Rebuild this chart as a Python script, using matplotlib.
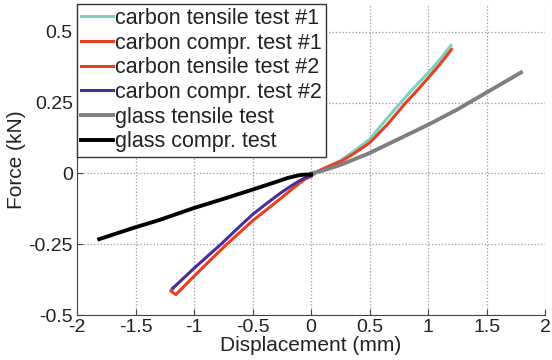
import numpy as np
import matplotlib
matplotlib.use('Agg')
import matplotlib.pyplot as plt

plt.rcParams['font.family'] = ['Liberation Sans', 'DejaVu Sans']

# carbon tensile test #1 (cyan)
ct1_x = [0.0, 0.05, 0.12, 0.2, 0.26, 0.35, 0.5, 0.62, 0.765, 0.88, 1.0, 1.1, 1.195]
ct1_y = [-0.008, 0.004, 0.018, 0.034, 0.048, 0.074, 0.12, 0.18, 0.25, 0.303, 0.355, 0.402, 0.452]
# carbon compr. test #1 (red, negative side)
cc1_x = [0.0, -0.05, -0.1, -0.17, -0.25, -0.37, -0.5, -0.6, -0.72, -0.85, -1.0, -1.155, -1.2, -1.18]
cc1_y = [-0.01, -0.02, -0.035, -0.058, -0.085, -0.125, -0.167, -0.205, -0.25, -0.302, -0.363, -0.428, -0.415, -0.405]
# carbon tensile test #2 (red, positive side)
ct2_x = [0.0, 0.05, 0.12, 0.2, 0.26, 0.35, 0.5, 0.65, 0.81, 0.9, 1.0, 1.1, 1.2]
ct2_y = [-0.008, 0.006, 0.02, 0.034, 0.044, 0.066, 0.108, 0.172, 0.25, 0.29, 0.337, 0.385, 0.438]
# carbon compr. test #2 (purple)
cc2_x = [0.0, -0.05, -0.1, -0.17, -0.25, -0.37, -0.5, -0.63, -0.77, -0.9, -1.0, -1.18]
cc2_y = [-0.008, -0.015, -0.026, -0.044, -0.066, -0.103, -0.145, -0.195, -0.25, -0.298, -0.335, -0.405]
# glass tensile test (gray)
gt_x = [0.0, 0.1, 0.25, 0.5, 0.75, 1.0, 1.25, 1.5, 1.795]
gt_y = [0.0, 0.01, 0.03, 0.072, 0.122, 0.172, 0.226, 0.286, 0.357]
# glass compr. test (black)
gc_x = [0.0, -0.05, -0.1, -0.2, -0.3, -0.5, -0.75, -1.0, -1.3, -1.5, -1.81]
gc_y = [-0.004, -0.004, -0.006, -0.016, -0.03, -0.057, -0.09, -0.122, -0.165, -0.19, -0.232]

labels = ['carbon tensile test #1', 'carbon compr. test #1', 'carbon tensile test #2',
          'carbon compr. test #2', 'glass tensile test', 'glass compr. test']
colors = ['#7fd0c4', '#e8401e', '#e8401e', '#4a2e96', '#7f7f7f', '#000000']
widths = [2.2, 2.2, 2.2, 2.2, 2.8, 2.8]

fig = plt.figure(figsize=(5.52, 3.6), dpi=100)
ax = fig.add_axes([0.1395, 0.125, 0.848, 0.865])

series = [(ct1_x, ct1_y), (cc1_x, cc1_y), (ct2_x, ct2_y), (cc2_x, cc2_y), (gt_x, gt_y), (gc_x, gc_y)]
for (xs, ys), lab, col, lw in zip(series, labels, colors, widths):
    ax.plot(xs, ys, color=col, lw=lw, label=lab, solid_joinstyle='round')

ax.set_xlim(-2, 2)
ax.set_ylim(-0.5, 0.6)
ax.set_xticks([-2, -1.5, -1, -0.5, 0, 0.5, 1, 1.5, 2])
ax.set_xticklabels(['-2', '-1.5', '-1', '-0.5', '0', '0.5', '1', '1.5', '2'])
ax.set_yticks([-0.5, -0.25, 0, 0.25, 0.5])
ax.set_yticklabels(['-0.5', '-0.25', '0', '0.25', '0.5'])
ax.grid(True, color='#999999', linestyle=':', linewidth=0.9)
ax.spines['top'].set_visible(False)
ax.spines['right'].set_visible(False)
for s in ['left', 'bottom']:
    ax.spines[s].set_color('#444444')
ax.tick_params(direction='in', length=4, color='#444444', labelsize=14, labelcolor='#222222', pad=3)
ax.set_xlabel('Displacement (mm)', fontsize=15, color='#222222', labelpad=0)
ax.set_ylabel('Force (kN)', fontsize=15, color='#222222', labelpad=2)

leg = ax.legend(loc='upper left', bbox_to_anchor=(0, 1.0), borderaxespad=0, fontsize=15.5,
                handlelength=1.45, handletextpad=0.1, labelspacing=0.17, borderpad=0.2,
                fancybox=False, framealpha=1)
leg.get_frame().set_edgecolor('#333333')
leg.get_frame().set_linewidth(1.0)
for t in leg.get_texts():
    t.set_color('#222222')

fig.savefig('out.png', dpi=100)
